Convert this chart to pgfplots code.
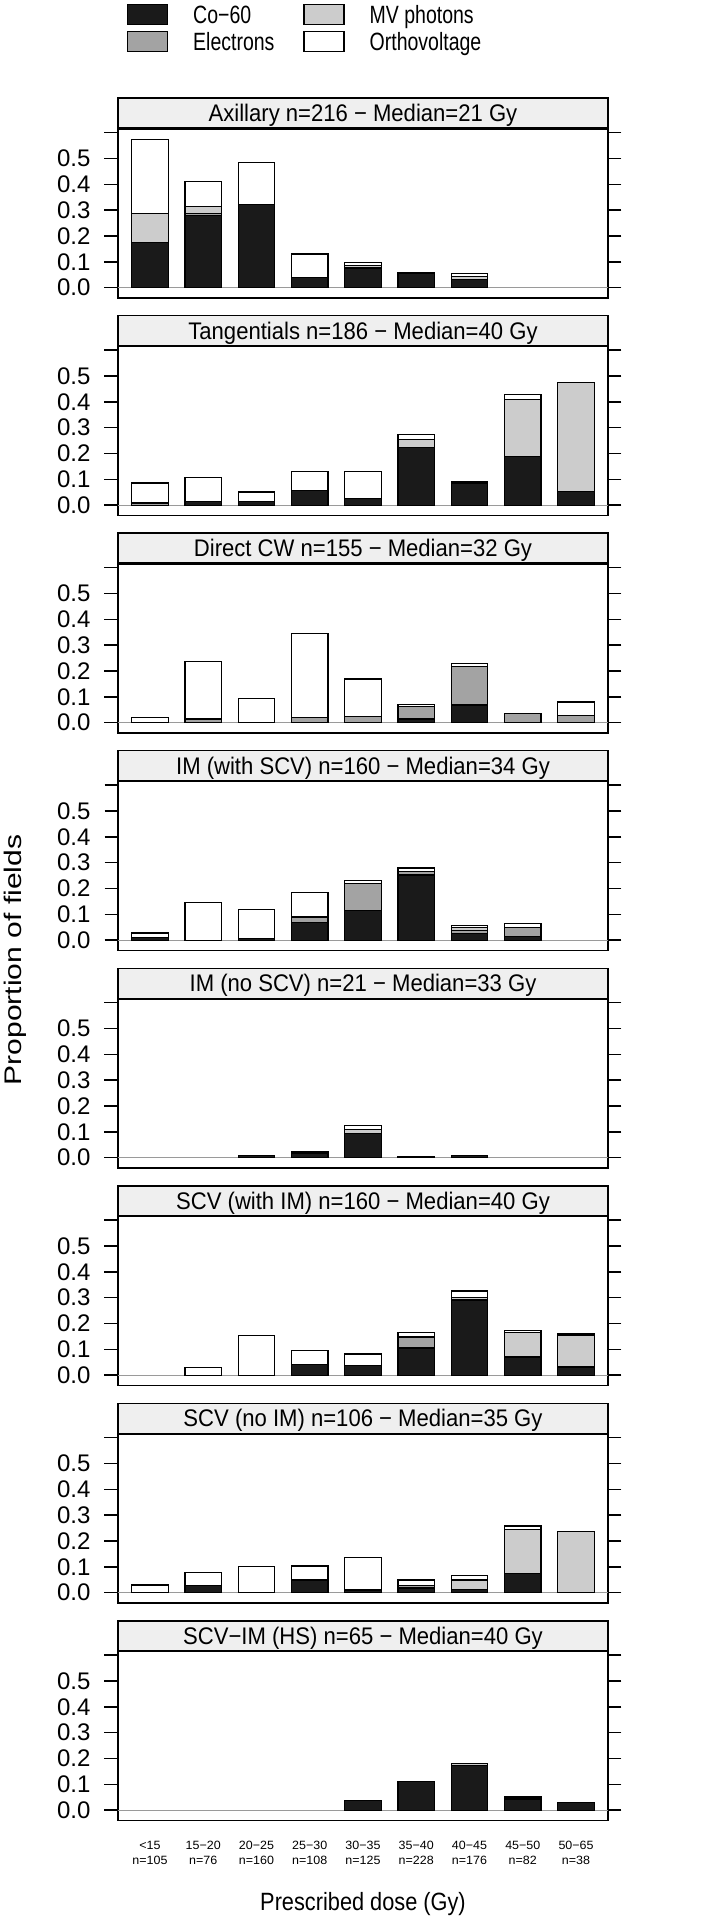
\documentclass[border=0pt]{standalone}
\usepackage{fontspec}
\setmainfont{Liberation Sans}
\newfontfamily\stripfont[FakeStretch=0.92]{Liberation Sans}
\newfontfamily\legfont[FakeStretch=0.78]{Liberation Sans}
\newfontfamily\ylabfont[FakeStretch=1.25]{Liberation Sans}
\newfontfamily\xlabfont[FakeStretch=0.87]{Liberation Sans}
\newfontfamily\xtfont[FakeStretch=1.04]{Liberation Sans}
\usepackage{pgfplots}
\usepackage{pgfplotstable}
\pgfplotsset{compat=1.18}

\definecolor{cCo}{HTML}{1A1A1A}
\definecolor{cEl}{HTML}{A3A3A3}
\definecolor{cMV}{HTML}{CCCCCC}
\definecolor{cOV}{HTML}{FFFFFF}
\definecolor{cStrip}{HTML}{EFEFEF}
\definecolor{cZero}{HTML}{9A9A9A}

% columns: category index, Co-60, Electrons, MV photons, Orthovoltage
\pgfplotstableread{
x co el mv ov
1 0.174 0 0.114 0.286
2 0.278 0.008 0.027 0.097
3 0.323 0 0 0.161
4 0.040 0 0 0.090
5 0.076 0 0.010 0.012
6 0.055 0 0 0.004
7 0.032 0 0.012 0.010
}\tA
\pgfplotstableread{
x co el mv ov
1 0 0.008 0 0.078
2 0.014 0 0 0.093
3 0.014 0 0 0.037
4 0.058 0 0 0.072
5 0.026 0 0 0.103
6 0.223 0 0.030 0.020
7 0.083 0 0.005 0.005
8 0.187 0 0.222 0.018
9 0.054 0 0.421 0
}\tB
\pgfplotstableread{
x co el mv ov
1 0 0 0 0.021
2 0 0.014 0 0.223
3 0 0 0 0.094
4 0 0.019 0 0.326
5 0 0.023 0 0.146
6 0.014 0.050 0 0.007
7 0.068 0.149 0 0.013
8 0 0.036 0 0
9 0 0.027 0 0.053
}\tC
\pgfplotstableread{
x co el mv ov
1 0.010 0 0 0.018
2 0 0 0 0.145
3 0.005 0 0 0.114
4 0.067 0.023 0 0.096
5 0.114 0.105 0 0.013
6 0.252 0.015 0 0.012
7 0.026 0.010 0.012 0.010
8 0.015 0.034 0 0.014
}\tD
\pgfplotstableread{
x co el mv ov
3 0.009 0 0 0
4 0.018 0.004 0 0
5 0.095 0 0.015 0.013
6 0.006 0 0 0
7 0.008 0 0 0
}\tE
\pgfplotstableread{
x co el mv ov
2 0 0 0 0.031
3 0 0 0 0.153
4 0.041 0 0 0.054
5 0.037 0 0 0.045
6 0.105 0.040 0.006 0.015
7 0.288 0.004 0.008 0.026
8 0.067 0.006 0.093 0.008
9 0.032 0 0.122 0.005
}\tF
\pgfplotstableread{
x co el mv ov
1 0 0 0 0.030
2 0.027 0 0 0.052
3 0 0 0 0.101
4 0.049 0 0 0.054
5 0.010 0 0 0.127
6 0.018 0.010 0 0.021
7 0.013 0 0.036 0.019
8 0.075 0 0.168 0.015
9 0 0 0.236 0
}\tG
\pgfplotstableread{
x co el mv ov
5 0.036 0 0 0
6 0.110 0 0 0.002
7 0.173 0 0.007 0
8 0.043 0 0.005 0.005
9 0.031 0 0 0
}\tH

\pgfplotsset{
  every axis title shift=0pt,
  boxlegend/.style={legend image code/.code={\draw[##1, line width=0.6pt] (0pt,-5pt) rectangle (20pt,5pt);}},
  panel/.style={
    scale only axis, width=245pt, height=84.5pt,
    anchor=south west,
    xmin=0.4, xmax=9.6, ymin=-0.04, ymax=0.614,
    ybar stacked, bar width=18.25pt,
    axis line style={line width=0.75pt, black},
    ytick={0,0.1,0.2,0.3,0.4,0.5,0.6},
    yticklabels={0.0,0.1,0.2,0.3,0.4,0.5,{}},
    ytick pos=both, yticklabel pos=left,
    tick align=outside, major tick length=6.75pt,
    tick style={line width=0.75pt, black},
    yticklabel style={font=\fontsize{12}{12}\selectfont, xshift=-3.5pt},
    xtick=\empty,
    extra y ticks={0}, extra y tick labels={},
    extra y tick style={grid=major, major grid style={cZero, line width=0.6pt}, major tick length=0pt},
    title style={at={(axis description cs:0.5,1)}, anchor=south,
      draw=black, fill=cStrip, line width=0.75pt,
      minimum width=245pt, minimum height=15pt, inner sep=0pt,
      text height=8.6pt, text depth=0pt,
      font=\stripfont\fontsize{12}{12}\selectfont},
    every axis plot/.append style={draw=black, line width=0.6pt},
  },
}

\newcommand{\bars}[1]{%
  \addplot[fill=cCo, draw=black, boxlegend] table[x=x, y=co]{#1};
  \addplot[fill=cEl, draw=black, boxlegend] table[x=x, y=el]{#1};
  \addplot[fill=cMV, draw=black, boxlegend] table[x=x, y=mv]{#1};
  \addplot[fill=cOV, draw=black, boxlegend] table[x=x, y=ov]{#1};
}

\begin{document}
\begin{tikzpicture}
\useasboundingbox (0pt,0pt) rectangle (361.5pt,-960pt);

\begin{axis}[panel, at={(59pt,-149pt)},
  title={Axillary n=216 − Median=21 Gy},
  legend entries={Co−60, Electrons, MV photons, Orthovoltage},
  legend columns=2, transpose legend, legend cell align=left,
  legend style={at={(axis description cs:0.01837,1.738)}, anchor=north west,
    draw=none, fill=none, inner sep=0pt, outer sep=0pt, row sep=2.85pt,
    font=\legfont\fontsize{12.5}{12.5}\selectfont,
    nodes={inner sep=0pt, text height=8.95pt, text depth=0pt},
    /tikz/every odd column/.append style={column sep=12.5pt},
    /tikz/every even column/.append style={column sep=14.5pt}},
]
\bars{\tA}
\end{axis}

\begin{axis}[panel, at={(59pt,-257.75pt)}, title={Tangentials n=186 − Median=40 Gy}]
\bars{\tB}
\end{axis}

\begin{axis}[panel, at={(59pt,-366.5pt)}, title={Direct CW n=155 − Median=32 Gy}]
\bars{\tC}
\end{axis}

\begin{axis}[panel, at={(59pt,-475.25pt)}, title={IM (with SCV) n=160 − Median=34 Gy},
  ylabel={Proportion of fields},
  ylabel style={at={(axis description cs:-0.2102,-0.056)}, anchor=center,
    font=\ylabfont\fontsize{12}{12}\selectfont}]
\bars{\tD}
\end{axis}

\begin{axis}[panel, at={(59pt,-584pt)}, title={IM (no SCV) n=21 − Median=33 Gy}]
\bars{\tE}
\end{axis}

\begin{axis}[panel, at={(59pt,-692.75pt)}, title={SCV (with IM) n=160 − Median=40 Gy}]
\bars{\tF}
\end{axis}

\begin{axis}[panel, at={(59pt,-801.5pt)}, title={SCV (no IM) n=106 − Median=35 Gy}]
\bars{\tG}
\end{axis}

\begin{axis}[panel, at={(59pt,-910.25pt)}, title={SCV−IM (HS) n=65 − Median=40 Gy},
  xtick={1,2,3,4,5,6,7,8,9},
  xticklabels={{<15\\n=105},{15−20\\n=76},{20−25\\n=160},{25−30\\n=108},{30−35\\n=125},{35−40\\n=228},{40−45\\n=176},{45−50\\n=82},{50−65\\n=38}},
  xtick style={draw=none},
  xticklabel style={align=center, font=\xtfont\fontsize{6}{7.65}\selectfont},
  xlabel={Prescribed dose (Gy)},
  xlabel style={at={(axis description cs:0.5,-0.477)}, anchor=center,
    text height=8.95pt, text depth=0pt,
    font=\xlabfont\fontsize{12.5}{12.5}\selectfont}]
\bars{\tH}
\end{axis}
\end{tikzpicture}
\end{document}
